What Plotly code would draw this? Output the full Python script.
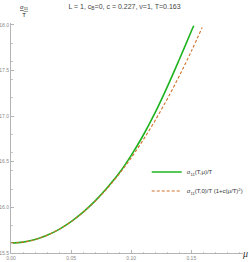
import plotly.graph_objects as go

# data
mu_green = [0.0, 0.01, 0.02, 0.03, 0.04, 0.05, 0.06, 0.07, 0.08, 0.09, 0.10, 0.11, 0.12, 0.13, 0.14, 0.15, 0.152]
sigma_green = [15.61, 15.619, 15.647, 15.694, 15.759, 15.844, 15.948, 16.071, 16.215, 16.376, 16.57, 16.79, 17.04, 17.32, 17.62, 17.93, 17.99]

mu_orange = [0.0, 0.01, 0.02, 0.03, 0.04, 0.05, 0.06, 0.07, 0.08, 0.09, 0.10, 0.11, 0.12, 0.13, 0.14, 0.15, 0.159]
sigma_orange = [15.61, 15.619, 15.647, 15.694, 15.759, 15.843, 15.946, 16.067, 16.207, 16.366, 16.543, 16.740, 16.954, 17.188, 17.440, 17.710, 17.970]

x_ticks = [0.0, 0.05, 0.10, 0.15]
x_tick_labels = ["0.00", "0.05", "0.10", "0.15"]
y_ticks = [15.5, 16.0, 16.5, 17.0, 17.5, 18.0]
y_tick_labels = ["15.5", "16.0", "16.5", "17.0", "17.5", "18.0"]

fig = go.Figure()
fig.add_trace(go.Scatter(
    x=mu_green, y=sigma_green, mode="lines", line=dict(color="#1EB31E", width=1.6, shape="spline"),
    name="σ<sub>11</sub>(T,μ)/T"))
fig.add_trace(go.Scatter(
    x=mu_orange, y=sigma_orange, mode="lines", line=dict(color="#D0702A", width=1.1, dash="3px,2px", shape="spline"),
    name="σ<sub>11</sub>(T,0)/T (1+c(μ/T)<sup>2</sup>)"))

axis_common = dict(showgrid=False, zeroline=False, showline=True, linecolor="#b4b4b4", linewidth=1,
                   ticks="inside", ticklen=3, tickcolor="#b4b4b4", automargin=False,
                   tickfont=dict(size=5, color="#8a8a8a", family="Liberation Sans"),
                   minor=dict(ticks="inside", ticklen=1.5, tickcolor="#c8c8c8", nticks=5))

fig.update_xaxes(range=[0, 0.193], tickvals=x_ticks, ticktext=x_tick_labels, **axis_common)
fig.update_yaxes(range=[15.5, 18.02], tickvals=y_ticks, ticktext=y_tick_labels, **axis_common)

fig.update_layout(
    width=249, height=262,
    margin=dict(l=11, r=6, t=23, b=9, autoexpand=False),
    plot_bgcolor="white", paper_bgcolor="white",
    title=dict(text="L = 1, c<sub>B</sub>=0, c = 0.227, ν=1, T=0.163", x=0.5, xanchor="center",
               y=0.985, yanchor="top", font=dict(size=7, color="#444", family="Liberation Sans")),
    legend=dict(x=0.585, y=0.415, xanchor="left", yanchor="top", bgcolor="rgba(0,0,0,0)",
                font=dict(size=6, color="#333", family="Liberation Sans"),
                itemwidth=30, tracegroupgap=2),
    annotations=[
        dict(text="<u>σ<sub>11</sub></u><br>T", x=0.03, y=1.09, xref="paper", yref="paper",
             xanchor="left", yanchor="top", showarrow=False, align="center",
             font=dict(size=6, color="#222222", family="Liberation Sans")),
        dict(text="<i>μ</i>", x=1.0, y=0, xref="paper", yref="paper", xanchor="left", yanchor="middle",
             xshift=-3, showarrow=False, font=dict(size=10, color="#333333", family="Liberation Serif")),
    ],
)

fig.write_html("out.html")
